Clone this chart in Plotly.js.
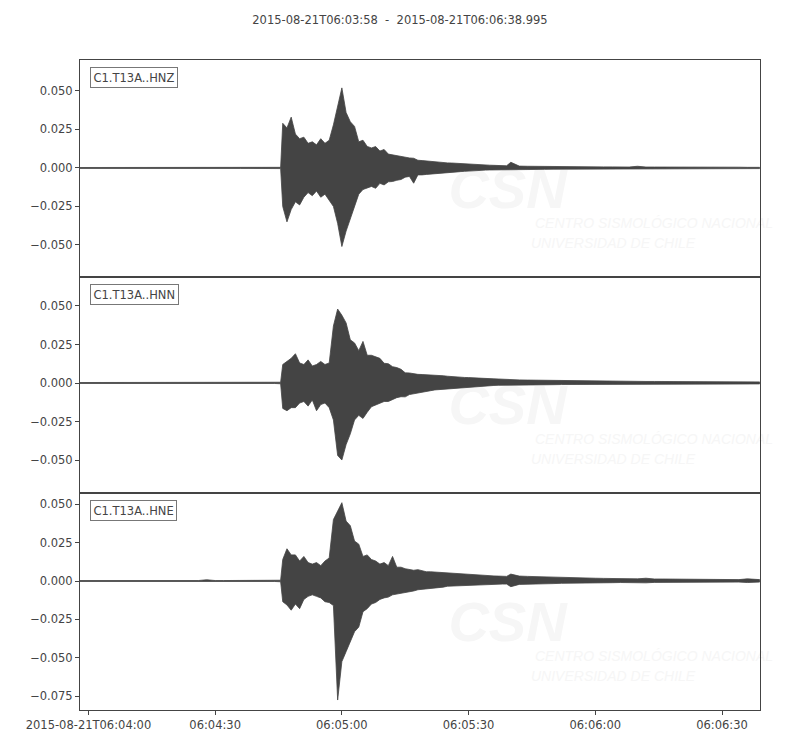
<!DOCTYPE html>
<html>
<head>
<meta charset="utf-8">
<script src="https://cdn.plot.ly/plotly-3.0.1.min.js"></script>
<style>html,body{margin:0;padding:0;background:#fff;}#chart{width:800px;height:750px;}</style>
</head>
<body>
<div id="chart"></div>
<script>
// Bin times, seconds after 2015-08-21T06:04:00
const binSec = [-2,0,2,4,6,8,10,12,14,16,18,20,22,24,26,28,30,32,34,36,38,40,42,44,45.5,
46,47,48,49,50,51,52,53,54,55,56,57,58,59,60,61,62,63,64,65,66,67,68,69,70,71,72,73,74,75,
76,77,78,79,80,81,82,83,84,85,86,87,88,89,90,91,92,93,94,95,96,97,98,99,100,
102,104,106,108,110,112,114,116,118,120,122,124,126,128,130,132,134,136,138,140,142,144,146,148,150,152,154,156,158.9];

const stations = ["C1.T13A..HNZ", "C1.T13A..HNN", "C1.T13A..HNE"];

// Envelope (max / min per bin)
const hnzUp = [0.0003,0.0003,0.0003,0.0003,0.0003,0.0003,0.0003,0.0003,0.0006,0.0003,0.0003,0.0003,0.0003,0.0006,0.0003,0.0003,0.0006,0.0003,0.0003,0.0003,0.0003,0.0003,0.0006,0.0003,0.0004,
0.029,0.026,0.033,0.022,0.019,0.020,0.016,0.017,0.015,0.019,
0.016,0.018,0.028,0.041,0.052,0.036,0.030,0.027,0.017,0.018,
0.014,0.013,0.0139,0.011,0.012,0.009,0.0084,0.008,0.0075,0.007,
0.0065,0.0063,0.005,0.0048,0.0045,0.0042,0.004,0.0038,0.0035,0.0033,
0.0032,0.003,0.0028,0.0027,0.0025,0.0024,0.0022,0.002,0.0019,0.0018,
0.0017,0.0016,0.0015,0.0014,0.0037,
0.0012,0.0011,0.001,0.001,0.0009,0.0009,0.0008,0.0008,0.0008,0.0007,0.0007,0.0007,0.0007,0.0006,0.0011,0.0006,0.0006,0.0006,0.0005,0.0005,0.0005,0.0005,0.0005,0.0005,0.0009,0.0005,0.0005,0.0004,0.0004];
const hnzLo = [-0.0003,-0.0003,-0.0003,-0.0003,-0.0003,-0.0003,-0.0003,-0.0003,-0.0004,-0.0003,-0.0003,-0.0003,-0.0003,-0.0004,-0.0003,-0.0003,-0.0005,-0.0003,-0.0003,-0.0003,-0.0003,-0.0003,-0.0005,-0.0003,-0.0004,
-0.025,-0.035,-0.027,-0.022,-0.024,-0.019,-0.016,-0.018,-0.015,-0.019,
-0.017,-0.021,-0.025,-0.036,-0.051,-0.041,-0.032,-0.025,-0.017,-0.014,
-0.013,-0.012,-0.0132,-0.010,-0.011,-0.009,-0.0088,-0.008,-0.0075,-0.006,
-0.0055,-0.0099,-0.0045,-0.0045,-0.0042,-0.004,-0.0035,-0.0033,-0.003,-0.003,
-0.0028,-0.0026,-0.0024,-0.0022,-0.0017,-0.0016,-0.0015,-0.0015,-0.0014,-0.0013,
-0.0013,-0.0012,-0.001,-0.001,-0.0012,
-0.001,-0.001,-0.0009,-0.0009,-0.0008,-0.0008,-0.0008,-0.0007,-0.0007,-0.0007,-0.0006,-0.0006,-0.0006,-0.0006,-0.0008,-0.0006,-0.0005,-0.0005,-0.0005,-0.0005,-0.0005,-0.0005,-0.0004,-0.0004,-0.0006,-0.0004,-0.0004,-0.0004,-0.0004];

const hnnUp = [0.0003,0.0003,0.0003,0.0003,0.0003,0.0003,0.0003,0.0003,0.0005,0.0003,0.0003,0.0003,0.0003,0.0003,0.0006,0.0003,0.0003,0.0003,0.0003,0.0003,0.0003,0.0003,0.0003,0.0003,0.0005,
0.012,0.014,0.016,0.019,0.013,0.012,0.015,0.011,0.012,0.014,
0.012,0.013,0.037,0.048,0.044,0.039,0.028,0.026,0.021,0.027,
0.018,0.018,0.017,0.016,0.0128,0.0125,0.0106,0.010,0.0089,0.0066,
0.0065,0.006,0.0056,0.0055,0.0054,0.0053,0.0052,0.005,0.0047,0.0044,
0.0041,0.004,0.0038,0.0036,0.0035,0.0033,0.0032,0.003,0.0029,0.0028,
0.0027,0.0026,0.0024,0.0023,0.0022,
0.002,0.0019,0.0018,0.0017,0.0016,0.0015,0.0014,0.0013,0.0013,0.0012,0.0012,0.0011,0.0011,0.0011,0.001,0.001,0.001,0.001,0.0009,0.0009,0.0009,0.0009,0.0008,0.0008,0.0008,0.0008,0.0008,0.0007,0.0007];
const hnnLo = [-0.0003,-0.0003,-0.0003,-0.0003,-0.0003,-0.0003,-0.0003,-0.0003,-0.0004,-0.0003,-0.0003,-0.0003,-0.0003,-0.0003,-0.0004,-0.0003,-0.0003,-0.0003,-0.0003,-0.0003,-0.0003,-0.0003,-0.0003,-0.0003,-0.0005,
-0.0165,-0.018,-0.016,-0.016,-0.013,-0.012,-0.015,-0.011,-0.018,-0.014,
-0.013,-0.016,-0.024,-0.047,-0.050,-0.040,-0.033,-0.024,-0.021,-0.023,
-0.019,-0.0154,-0.014,-0.0132,-0.012,-0.012,-0.011,-0.0095,-0.0089,-0.009,
-0.0075,-0.007,-0.0067,-0.006,-0.0055,-0.005,-0.0045,-0.0042,-0.004,-0.0037,
-0.0035,-0.0032,-0.003,-0.0028,-0.0025,-0.0024,-0.0022,-0.002,-0.0019,-0.0018,
-0.0016,-0.0015,-0.0014,-0.0014,-0.0013,
-0.0013,-0.0012,-0.0012,-0.0011,-0.0011,-0.001,-0.001,-0.001,-0.0009,-0.0009,-0.0009,-0.0009,-0.0008,-0.0008,-0.0008,-0.0008,-0.0008,-0.0007,-0.0007,-0.0007,-0.0007,-0.0007,-0.0006,-0.0006,-0.0006,-0.0006,-0.0006,-0.0006,-0.0006];

const hneUp = [0.0003,0.0003,0.0003,0.0003,0.0003,0.0003,0.0003,0.0003,0.0003,0.0003,0.0003,0.0003,0.0003,0.0003,0.0003,0.0008,0.0003,0.0003,0.0003,0.0003,0.0005,0.0003,0.0003,0.0003,0.0005,
0.014,0.021,0.017,0.017,0.013,0.016,0.012,0.011,0.012,0.010,
0.013,0.015,0.040,0.046,0.051,0.039,0.036,0.026,0.024,0.016,
0.017,0.014,0.013,0.011,0.012,0.010,0.016,0.009,0.009,0.008,
0.0075,0.007,0.0074,0.0065,0.006,0.006,0.0058,0.0055,0.0053,0.0052,
0.005,0.0048,0.0046,0.0044,0.0042,0.004,0.0038,0.0036,0.0035,0.0034,
0.0033,0.0032,0.003,0.003,0.0045,
0.0032,0.003,0.0028,0.0027,0.0026,0.0024,0.0022,0.002,0.0019,0.0018,0.0017,0.0016,0.0015,0.0015,0.0014,0.0018,0.0013,0.0013,0.0012,0.0012,0.0011,0.0011,0.001,0.001,0.001,0.001,0.0009,0.0014,0.0009];
const hneLo = [-0.0003,-0.0003,-0.0003,-0.0003,-0.0003,-0.0003,-0.0003,-0.0003,-0.0003,-0.0003,-0.0003,-0.0003,-0.0003,-0.0003,-0.0003,-0.0006,-0.0003,-0.0003,-0.0003,-0.0003,-0.0004,-0.0003,-0.0003,-0.0003,-0.0005,
-0.0135,-0.0156,-0.019,-0.015,-0.018,-0.012,-0.010,-0.009,-0.010,-0.011,
-0.0135,-0.014,-0.016,-0.0775,-0.0525,-0.046,-0.040,-0.033,-0.030,-0.020,
-0.018,-0.015,-0.014,-0.012,-0.011,-0.0105,-0.009,-0.0085,-0.008,-0.0075,
-0.007,-0.0065,-0.0057,-0.0055,-0.005,-0.0047,-0.0045,-0.0042,-0.004,-0.0034,
-0.0033,-0.0032,-0.003,-0.003,-0.0028,-0.0027,-0.0026,-0.0025,-0.0024,-0.0023,
-0.0022,-0.0021,-0.002,-0.002,-0.0037,
-0.0022,-0.002,-0.0019,-0.0018,-0.0017,-0.0015,-0.0013,-0.0013,-0.0012,-0.0012,-0.0011,-0.0011,-0.001,-0.001,-0.001,-0.0012,-0.0009,-0.0009,-0.0009,-0.0009,-0.0008,-0.0008,-0.0008,-0.0008,-0.0007,-0.0007,-0.0007,-0.001,-0.0007];

const yTicks1 = [-0.05, -0.025, 0, 0.025, 0.05];
const yTicks3 = [-0.075, -0.05, -0.025, 0, 0.025, 0.05];
const xTickSec = [0, 30, 60, 90, 120, 150];
const xTickText = ["2015-08-21T06:04:00", "06:04:30", "06:05:00", "06:05:30", "06:06:00", "06:06:30"];
const titleText = "2015-08-21T06:03:58  -  2015-08-21T06:06:38.995";
const wmLine1 = "CENTRO SISMOLÓGICO NACIONAL";
const wmLine2 = "UNIVERSIDAD DE CHILE";

const base = Date.UTC(2015, 7, 21, 6, 4, 0);
function toDate(s) {
  return new Date(base + Math.round(s * 1000)).toISOString().replace('T', ' ').replace('Z', '');
}
const xs = binSec.map(toDate);
const wave = '#444444';

function envTrace(up, lo, xa, ya) {
  const x = xs.concat(xs.slice().reverse());
  const y = up.concat(lo.slice().reverse());
  return {x: x, y: y, xaxis: xa, yaxis: ya, type: 'scatter', mode: 'lines',
    fill: 'toself', fillcolor: wave, line: {color: wave, width: 0.8}, hoverinfo: 'skip', showlegend: false};
}

const data = [
  envTrace(hnzUp, hnzLo, 'x3', 'y'),
  envTrace(hnnUp, hnnLo, 'x2', 'y2'),
  envTrace(hneUp, hneLo, 'x', 'y3')
];

const fnt = {family: 'DejaVu Sans, sans-serif', size: 11.5, color: '#444'};
const xRange = ['2015-08-21 06:03:58', '2015-08-21 06:06:38.995'];
const d1 = 217/650, d2 = 433/650;

function yax(domain, range, ticks) {
  return {domain: domain, range: range, tickvals: ticks, tickformat: '.3f', ticks: 'outside', ticklen: 4,
    tickcolor: '#444', showline: true, mirror: true, linecolor: '#444', linewidth: 1,
    showgrid: false, zeroline: false, tickfont: fnt, fixedrange: true};
}
function xax(anchor, showLabels) {
  const a = {type: 'date', range: xRange, anchor: anchor, showline: true, mirror: true, linecolor: '#444', linewidth: 1,
    showgrid: false, zeroline: false, tickfont: fnt, fixedrange: true};
  if (showLabels) {
    a.tickvals = xTickSec.map(toDate); a.ticktext = xTickText; a.ticks = 'outside'; a.ticklen = 4; a.tickcolor = '#444';
  } else {
    a.showticklabels = false; a.ticks = ''; a.matches = 'x';
  }
  return a;
}

const annotations = [];
const shapes = [];
const yrefs = ['y domain', 'y2 domain', 'y3 domain'];
const wmColor = '#f6f6f6';
stations.forEach(function (s, i) {
  annotations.push({text: s, xref: 'paper', x: 10/680, xanchor: 'left', yref: yrefs[i], y: 1 - 7/217, yanchor: 'top',
    showarrow: false, font: fnt, bordercolor: '#777', borderwidth: 1, borderpad: 2.5, bgcolor: '#fff'});
  // faint watermark, drawn beneath the waveform
  shapes.push({type: 'rect', layer: 'below', xref: 'paper', yref: yrefs[i], x0: 370/680, x1: 485/680, y0: 1 - 150/217, y1: 1 - 96/217,
    line: {width: 0}, fillcolor: 'rgba(0,0,0,0)',
    label: {text: 'CSN', textposition: 'middle center', font: {family: 'Liberation Sans, sans-serif', size: 56, color: wmColor, weight: 'bold', style: 'italic'}}});
  shapes.push({type: 'rect', layer: 'below', xref: 'paper', yref: yrefs[i], x0: 452/680, x1: 676/680, y0: 1 - 171/217, y1: 1 - 153/217,
    line: {width: 0}, fillcolor: 'rgba(0,0,0,0)',
    label: {text: wmLine1, textposition: 'middle left', padding: 0, font: {family: 'Liberation Sans, sans-serif', size: 14, color: wmColor, style: 'italic'}}});
  shapes.push({type: 'rect', layer: 'below', xref: 'paper', yref: yrefs[i], x0: 448/680, x1: 676/680, y0: 1 - 191/217, y1: 1 - 173/217,
    line: {width: 0}, fillcolor: 'rgba(0,0,0,0)',
    label: {text: wmLine2, textposition: 'middle left', padding: 0, font: {family: 'Liberation Sans, sans-serif', size: 14, color: wmColor, style: 'italic'}}});
});

const layout = {
  width: 800, height: 750,
  margin: {l: 80, r: 40, t: 60, b: 40},
  paper_bgcolor: '#fff', plot_bgcolor: 'rgba(0,0,0,0)',
  title: {text: titleText, font: fnt, x: 0.5, xref: 'container', xanchor: 'center', y: 1 - 20/750, yref: 'container', yanchor: 'middle'},
  xaxis: xax('y3', true),
  xaxis2: xax('y2', false),
  xaxis3: xax('y', false),
  yaxis: yax([d2, 1], [-0.0708, 0.0701], yTicks1),
  yaxis2: yax([d1, d2], [-0.0714, 0.0688], yTicks1),
  yaxis3: yax([0, d1], [-0.0840, 0.0573], yTicks3),
  annotations: annotations,
  shapes: shapes,
  showlegend: false
};

Plotly.newPlot('chart', data, layout, {displayModeBar: false, staticPlot: true});
</script>
</body>
</html>
